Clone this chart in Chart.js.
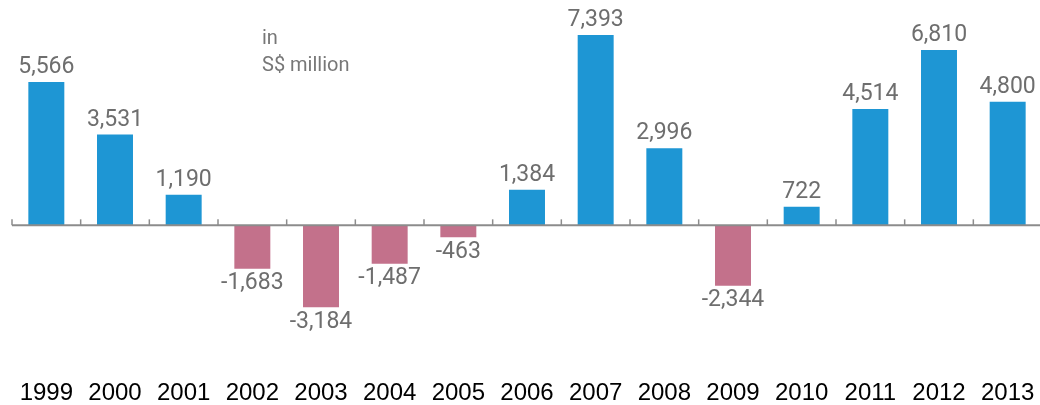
<!DOCTYPE html>
<html>
<head>
<meta charset="utf-8">
<script src="https://cdn.jsdelivr.net/npm/chart.js@4.4.0/dist/chart.umd.min.js"></script>
<style>
  html, body { margin: 0; padding: 0; background: #fff; overflow: hidden; }
  #wrap { width: 1060px; height: 416px; }
</style>
</head>
<body>
<div id="wrap"><canvas id="grafico"></canvas></div>
<script>
const years = ['1999', '2000', '2001', '2002', '2003', '2004', '2005', '2006',
    '2007', '2008', '2009', '2010', '2011', '2012', '2013'];
const values = [5566, 3531, 1190, -1683, -3184, -1487, -463, 1384,
    7393, 2996, -2344, 722, 4514, 6810, 4800];
const unitLines = ['in', 'S$ million'];

const blue = '#1e96d4';
const pink = '#c3718b';
const labelGray = '#6e6e6e';

// zero line with small tick marks between the bars, plus value labels
const extras = {
    id: 'extras',
    afterDatasetsDraw(chart) {
        const { ctx, chartArea, scales } = chart;
        const y0 = scales.y.getPixelForValue(0);
        const meta = chart.getDatasetMeta(0);
        const step = scales.x.getPixelForValue(1) - scales.x.getPixelForValue(0);

        ctx.save();
        ctx.strokeStyle = '#8c8c8c';
        ctx.lineWidth = 2;
        ctx.beginPath();
        ctx.moveTo(chartArea.left, y0);
        ctx.lineTo(chartArea.right, y0);
        ctx.stroke();

        ctx.lineWidth = 1.5;
        for (let i = 0; i <= years.length; i++) {
            const x = scales.x.getPixelForValue(0) - step / 2 + i * step;
            ctx.beginPath();
            ctx.moveTo(x, y0);
            ctx.lineTo(x, y0 - 6);
            ctx.stroke();
        }

        ctx.fillStyle = labelGray;
        ctx.font = '400 23px Roboto';
        ctx.textAlign = 'center';
        meta.data.forEach((bar, i) => {
            const v = values[i];
            const txt = v.toLocaleString('en-US');
            if (v >= 0) {
                ctx.textBaseline = 'bottom';
                ctx.fillText(txt, bar.x, bar.y - 3);
            } else {
                ctx.textBaseline = 'top';
                ctx.fillText(txt, bar.x, bar.y + 3);
            }
        });

        ctx.textAlign = 'left';
        ctx.textBaseline = 'alphabetic';
        ctx.fillStyle = '#777';
        ctx.font = '400 20px Roboto';
        ctx.fillText(unitLines[0], 262, 44);
        ctx.fillText(unitLines[1], 262, 71);
        ctx.restore();
    }
};

new Chart(document.getElementById('grafico').getContext('2d'), {
    type: 'bar',
    data: {
        labels: years,
        datasets: [{
            data: values,
            backgroundColor: values.map(v => v >= 0 ? blue : pink),
            barPercentage: 0.524,
            categoryPercentage: 1
        }]
    },
    options: {
        responsive: true,
        maintainAspectRatio: false,
        animation: false,
        layout: { padding: { left: 12, right: 18, top: 0, bottom: 0 } },
        plugins: { legend: { display: false }, tooltip: { enabled: false } },
        scales: {
            x: {
                grid: { display: false, drawTicks: false },
                border: { display: false },
                ticks: {
                    color: '#000',
                    font: { family: 'Liberation Sans, Arial', size: 24 },
                    padding: 8,
                    maxRotation: 0,
                    autoSkip: false
                }
            },
            y: {
                display: false,
                min: -5664,
                max: 8750
            }
        }
    },
    plugins: [extras]
});
</script>
</body>
</html>
